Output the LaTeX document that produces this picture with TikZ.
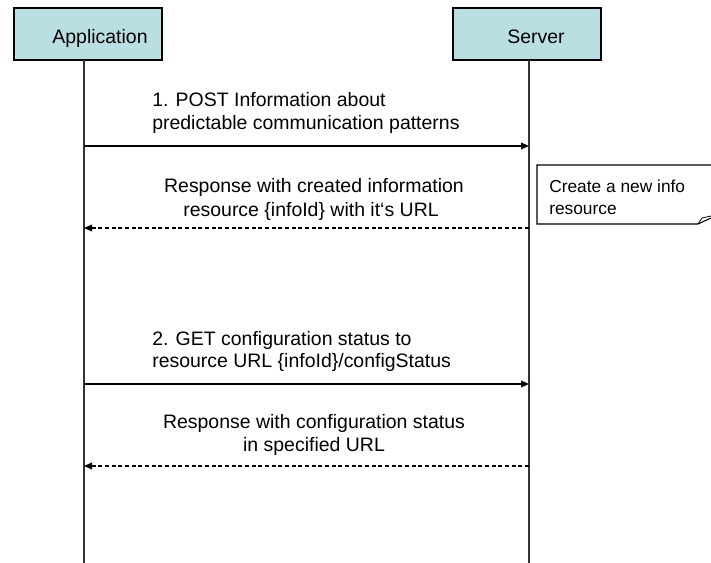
\documentclass[tikz,border=0pt]{standalone}
\usepackage{fontspec}
\setmainfont{Liberation Sans}
\usetikzlibrary{arrows.meta}
\definecolor{boxfill}{RGB}{186,223,227}
\begin{document}
\begin{tikzpicture}[x=0.75pt,y=-0.75pt,
  actor/.style={draw=black,line width=0.9pt,fill=boxfill,minimum width=111pt,minimum height=39pt,inner sep=0pt},
  lifeline/.style={draw=black!80,line width=0.8pt},
  msg/.style={draw=black,line width=1.1pt,-{Triangle[length=6pt,width=5pt]}},
  reply/.style={draw=black,line width=1pt,dash pattern=on 3pt off 2pt,-{Triangle[length=6pt,width=5pt]}},
  lbl/.style={font=\fontsize{14.6}{18}\selectfont,inner sep=0pt},
  notetxt/.style={font=\fontsize{13}{16}\selectfont,inner sep=0pt,anchor=base west}]
\useasboundingbox (0,0) rectangle (711,563);
% actors
\node[actor] (app) at (88,34) {};
\node[lbl,anchor=base] (apptxt) at (100,44) {Application};
\node[actor] (srv) at (527,34) {};
\node[lbl,anchor=base] (srvtxt) at (536,44) {Server};
% lifelines
\coordinate (append) at (84,563);
\coordinate (srvend) at (529,563);
\coordinate (apptop) at (84,60);
\coordinate (srvtop) at (529,60);
\draw[lifeline] (apptop) -- (append);
\draw[lifeline] (srvtop) -- (srvend);
% message anchors
\coordinate (a1) at (84,146); \coordinate (s1) at (529,146);
\coordinate (a2) at (84,228); \coordinate (s2) at (529,228);
\coordinate (a3) at (84,384); \coordinate (s3) at (529,384);
\coordinate (a4) at (84,466); \coordinate (s4) at (529,466);
\draw[msg] (a1) -- (s1);
\draw[reply] (s2) -- (a2);
\draw[msg] (a3) -- (s3);
\draw[reply] (s4) -- (a4);
% labels
\node[lbl,anchor=base west] (l1a) at (152,107) {1. POST Information about};
\node[lbl,anchor=base west] (l1b) at (152,130) {predictable communication patterns};
\node[lbl,anchor=base] (l2a) at (314,193) {Response with created information};
\node[lbl,anchor=base] (l2b) at (311,217) {resource \{infoId\} with it‘s URL};
\node[lbl,anchor=base west] (l3a) at (152,345) {2. GET configuration status to};
\node[lbl,anchor=base west] (l3b) at (152,368) {resource URL \{infoId\}/configStatus};
\node[lbl,anchor=base] (l4a) at (314,428) {Response with configuration status};
\node[lbl,anchor=base] (l4b) at (314,451) {in specified URL};
% note
\coordinate (n1) at (537,165);
\coordinate (n2) at (715,165);
\coordinate (n3) at (698,224);
\coordinate (n4) at (537,224);
\draw[line width=0.8pt] (n2) -- (n1) -- (n4) -- (n3) -- (711,218);
\draw[line width=0.6pt] (n3) -- (702,218) -- (711,216);
\node[notetxt] (nt1) at (549,193) {Create a new info};
\node[notetxt] (nt2) at (549,215) {resource};
\end{tikzpicture}
\end{document}
